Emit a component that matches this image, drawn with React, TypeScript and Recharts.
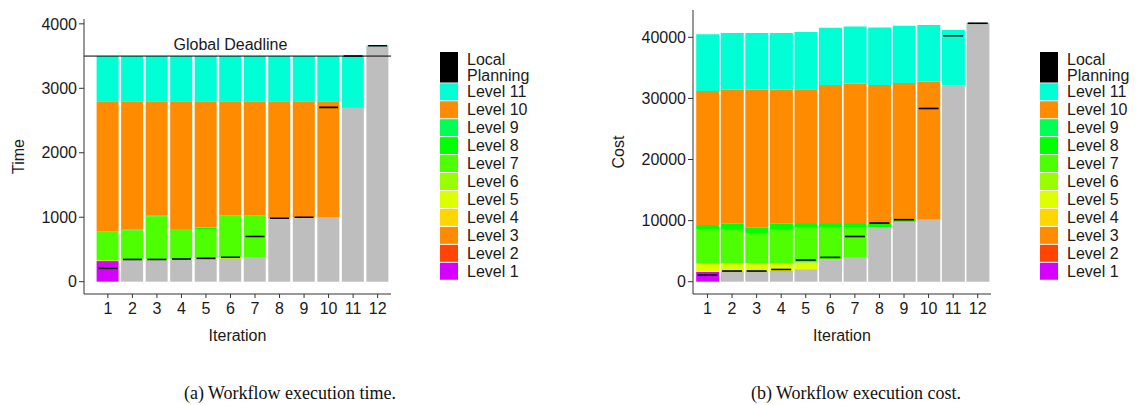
import { ComposedChart, Bar, Line, XAxis, YAxis, ReferenceLine, Label } from 'recharts'

const iterations = ['1', '2', '3', '4', '5', '6', '7', '8', '9', '10', '11', '12']

// (a) execution time, per level, stacked on top of the time already spent
const timePrev = [0, 338, 340, 340, 355, 357, 373, 969, 995, 995, 2700, 3652]
const timeL1 = [320, 0, 0, 0, 0, 0, 0, 0, 0, 0, 0, 0]
const timeL5 = [12, 6, 6, 10, 8, 14, 0, 0, 0, 0, 0, 0]
const timeL7 = [445, 451, 664, 455, 447, 654, 652, 0, 0, 0, 0, 0]
const timeL8 = [10, 10, 12, 12, 30, 11, 11, 12, 0, 0, 0, 0]
const timeL10 = [2013, 1995, 1778, 1983, 1960, 1764, 1764, 1819, 1805, 1805, 10, 0]
const timeL11 = [700, 700, 700, 700, 700, 700, 700, 700, 700, 700, 790, 10]
const timePlan = [207, 345, 345, 352, 362, 378, 700, 984, 1000, 2704, 3500, 3660]
const timeTicks = [0, 1000, 2000, 3000, 4000]
const globalDeadline = 3500

// (b) execution cost
const costPrev = [0, 1700, 1700, 1650, 2050, 3700, 3900, 8950, 9800, 10150, 32100, 42280]
const costL1 = [1600, 0, 0, 0, 0, 0, 0, 0, 0, 0, 0, 0]
const costL3 = [0, 50, 50, 150, 0, 0, 0, 0, 0, 0, 0, 0]
const costL5 = [1350, 1300, 1300, 1250, 1100, 0, 0, 0, 0, 0, 0, 0]
const costL7 = [5650, 5550, 4900, 5550, 5700, 5150, 5050, 0, 0, 0, 0, 0]
const costL8 = [700, 900, 900, 900, 750, 750, 650, 650, 300, 0, 0, 0]
const costL10 = [21900, 21900, 22550, 21900, 21900, 22600, 22800, 22600, 22400, 22600, 0, 0]
const costL11 = [9300, 9300, 9300, 9300, 9350, 9350, 9350, 9400, 9400, 9250, 9100, 80]
const costPlan = [1100, 1750, 1750, 2000, 3550, 3980, 7400, 9600, 10150, 28350, 40250, 42300]
const costTicks = [0, 10000, 20000, 30000, 40000]

const legendItems = [
  { name: 'Level 11', color: '#00FFD5' },
  { name: 'Level 10', color: '#FF8C00' },
  { name: 'Level 9', color: '#00FF55' },
  { name: 'Level 8', color: '#00FF00' },
  { name: 'Level 7', color: '#4DFF00' },
  { name: 'Level 6', color: '#99FF00' },
  { name: 'Level 5', color: '#DDFF00' },
  { name: 'Level 4', color: '#FFD700' },
  { name: 'Level 3', color: '#FF8C00' },
  { name: 'Level 2', color: '#FF4500' },
  { name: 'Level 1', color: '#D500FF' },
]

const COLORS: Record<string, string> = {
  prev: '#BEBEBE',
  l1: '#D500FF',
  l3: '#FF8C00',
  l5: '#DDFF00',
  l7: '#4DFF00',
  l8: '#00FF00',
  l10: '#FF8C00',
  l11: '#00FFD5',
}

const FONT = '"Liberation Sans", Arial, sans-serif'
const INK = '#1a1a1a'
const AXIS = '#333333'

const timeRows = iterations.map((it, i) => ({
  it,
  prev: timePrev[i],
  l1: timeL1[i],
  l5: timeL5[i],
  l7: timeL7[i],
  l8: timeL8[i],
  l10: timeL10[i],
  l11: timeL11[i],
  plan: timePlan[i],
}))

const costRows = iterations.map((it, i) => ({
  it,
  prev: costPrev[i],
  l1: costL1[i],
  l3: costL3[i],
  l5: costL5[i],
  l7: costL7[i],
  l8: costL8[i],
  l10: costL10[i],
  l11: costL11[i],
  plan: costPlan[i],
}))

const planMark = (half: number) => (props: any) => {
  const { cx, cy, index } = props
  if (cx == null || cy == null) return <g key={`p${index}`} />
  return (
    <line
      key={`p${index}`}
      x1={cx - half}
      x2={cx + half}
      y1={cy}
      y2={cy}
      stroke="#000"
      strokeWidth={1.6}
    />
  )
}

interface PanelProps {
  rows: any[]
  keys: string[]
  ticks: number[]
  domain: [number, number]
  yLabel: string
  width: number
  yWidth: number
  top: number
  right: number
  pad: { left: number; right: number }
  barSize: number
  deadline?: number
}

function Panel(p: PanelProps) {
  const tickStyle = { fill: INK, fontSize: 16, fontFamily: FONT }
  return (
    <ComposedChart
      width={p.width}
      height={360}
      data={p.rows}
      margin={{ top: p.top, right: p.right, bottom: 16, left: 0 }}
    >
      <XAxis
        dataKey="it"
        height={50}
        padding={p.pad}
        tick={tickStyle}
        tickSize={4}
        tickMargin={5}
        stroke={AXIS}
        interval={0}
      >
        <Label value="Iteration" position="insideBottom" offset={3} fill={INK} fontSize={16} fontFamily={FONT} />
      </XAxis>
      <XAxis xAxisId="top" dataKey="it" orientation="top" height={0} tick={false} tickLine={false} stroke={AXIS} padding={p.pad} />
      <YAxis
        type="number"
        domain={p.domain}
        ticks={p.ticks}
        allowDataOverflow
        width={p.yWidth}
        tick={tickStyle}
        tickSize={5}
        tickMargin={2}
        stroke={AXIS}
      >
        <Label
          value={p.yLabel}
          angle={-90}
          position="insideLeft"
          offset={18}
          fill={INK}
          fontSize={16}
          fontFamily={FONT}
          style={{ textAnchor: 'middle' }}
        />
      </YAxis>
      <YAxis yAxisId="right" orientation="right" width={0} tick={false} tickLine={false} stroke={AXIS} domain={p.domain} />
      {p.keys.map((k) => (
        <Bar key={k} dataKey={k} stackId="a" fill={COLORS[k]} barSize={p.barSize} isAnimationActive={false} />
      ))}
      {p.deadline != null && (
        <ReferenceLine y={p.deadline} stroke="#000" strokeWidth={1}>
          <Label value="Global Deadline" position="top" offset={6} dx={-7} fill={INK} fontSize={16} fontFamily={FONT} />
        </ReferenceLine>
      )}
      <Line
        dataKey="plan"
        stroke="none"
        dot={planMark(p.barSize / 2 - 1.5)}
        activeDot={false}
        legendType="none"
        isAnimationActive={false}
      />
    </ComposedChart>
  )
}

function LevelLegend({ left }: { left: number }) {
  const keyX = 8
  const textX = 35
  const firstY = 31.3
  const pitch = 17.95
  return (
    <svg width={120} height={240} style={{ position: 'absolute', left: left - 8, top: 52 }}>
      <g fontFamily={FONT} fontSize={16} fill={INK}>
        <rect x={keyX} y={0} width={18} height={30.5} fill="#000" />
        <text x={textX} y={13}>Local</text>
        <text x={textX} y={29}>Planning</text>
        {legendItems.map((item, i) => {
          const y = firstY + i * pitch
          return (
            <g key={item.name}>
              <rect x={keyX} y={y} width={18} height={pitch - 1} fill={item.color} />
              <text x={textX} y={y + pitch / 2 + 5.2}>{item.name}</text>
            </g>
          )
        })}
      </g>
    </svg>
  )
}

export default function App() {
  const captionStyle = {
    position: 'absolute' as const,
    top: 383,
    width: 400,
    textAlign: 'center' as const,
    fontFamily: '"Liberation Serif", "Times New Roman", serif',
    fontSize: 18,
    lineHeight: '20px',
    color: '#111',
  }
  return (
    <div style={{ position: 'absolute', left: 0, top: 0, width: 1139, height: 405, background: '#fff', overflow: 'hidden' }}>
      <div style={{ position: 'absolute', left: 0, top: 0 }}>
        <Panel
          rows={timeRows}
          keys={['prev', 'l1', 'l5', 'l7', 'l8', 'l10', 'l11']}
          ticks={timeTicks}
          domain={[-191, 4075]}
          yLabel="Time"
          width={560}
          yWidth={84}
          top={19}
          right={169}
          pad={{ left: 11.6, right: 1.1 }}
          barSize={22}
          deadline={globalDeadline}
        />
      </div>
      <div style={{ position: 'absolute', left: 600, top: 0 }}>
        <Panel
          rows={costRows}
          keys={['prev', 'l1', 'l3', 'l5', 'l7', 'l8', 'l10', 'l11']}
          ticks={costTicks}
          domain={[-2013, 44468]}
          yLabel="Cost"
          width={539}
          yWidth={93}
          top={10}
          right={148}
          pad={{ left: 2.2, right: 1 }}
          barSize={23}
        />
      </div>
      <LevelLegend left={440} />
      <LevelLegend left={1040} />
      <div style={{ ...captionStyle, left: 90 }}>(a) Workflow execution time.</div>
      <div style={{ ...captionStyle, left: 656 }}>(b) Workflow execution cost.</div>
    </div>
  )
}
